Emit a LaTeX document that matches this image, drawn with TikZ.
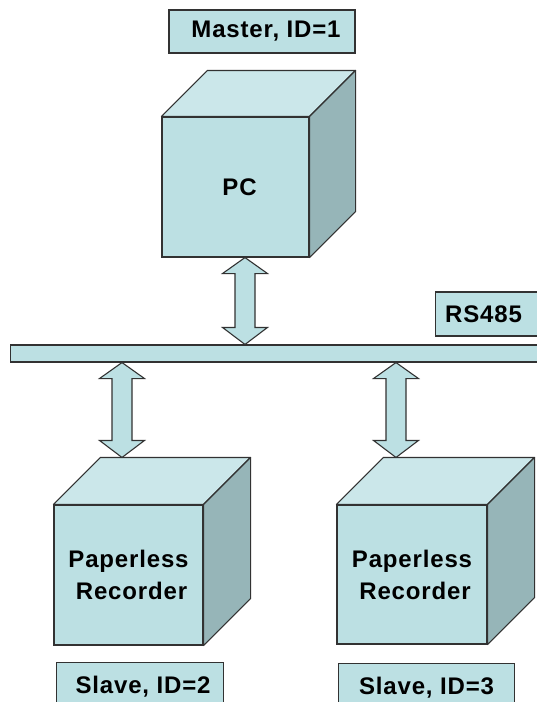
\documentclass[tikz,border=0pt]{standalone}
\usepackage{fontspec}
\setmainfont{Liberation Sans}
\newfontfamily\lblfont[LetterSpace=3.5]{Liberation Sans}
\usetikzlibrary{calc}
\definecolor{facec}{RGB}{188,224,227}
\definecolor{topc}{RGB}{203,231,234}
\definecolor{sidec}{RGB}{150,181,184}
\definecolor{edgec}{RGB}{50,50,50}
\tikzset{
  face/.style={draw=edgec, fill=facec, line width=1.1pt, inner sep=0pt, align=center, font=\lblfont\bfseries\fontsize{24}{32}\selectfont},
  topface/.style={draw=edgec, fill=topc, line width=1.1pt, line join=round},
  sideface/.style={draw=edgec, fill=sidec, line width=1.1pt, line join=round},
  label/.style={draw=edgec, fill=facec, line width=1.1pt, inner sep=0pt, font=\lblfont\bfseries\fontsize{24}{28}\selectfont},
  arr/.style={draw=edgec, fill=facec, line width=1.1pt, line join=miter},
}
\newcommand\mycube[6]{%
  \node[face, minimum width=#3, minimum height=#4] (#1) at (#2) {#6};
  \draw[topface] (#1.north west) -- ++(#5,#5) -- ([shift={(#5,#5)}]#1.north east) -- (#1.north east) -- cycle;
  \draw[sideface] (#1.north east) -- ++(#5,#5) -- ([shift={(#5,#5)}]#1.south east) -- (#1.south east) -- cycle;
  \coordinate (#1-back) at ([shift={(#5,#5)}]#1.north);
}
% double arrow: #1 top tip point, #2 point giving bottom tip y
\newcommand\dblarrow[2]{%
  \draw[arr] let \p1=(#1), \p2=(#2) in
    (\x1,\y1) -- (\x1+22.5pt,\y1-16pt) -- (\x1+10pt,\y1-16pt) -- (\x1+10pt,\y2+17pt)
    -- (\x1+22.5pt,\y2+17pt) -- (\x1,\y2) -- (\x1-22.5pt,\y2+17pt) -- (\x1-10pt,\y2+17pt)
    -- (\x1-10pt,\y1-16pt) -- (\x1-22.5pt,\y1-16pt) -- cycle;
}
\begin{document}
\begin{tikzpicture}[x=1pt,y=-1pt]
\useasboundingbox (0,0) rectangle (537,702);
% labels
\node[label, minimum width=186pt, minimum height=43pt] (master) at (262,31.5) {\hspace*{8pt}Master, ID=1};
\node[label, minimum width=104pt, minimum height=44pt, anchor=west] (rs) at (435,314) {\hspace*{-8pt}RS485};
\node[label, minimum width=167pt, minimum height=48pt, anchor=north west] (s2) at (56,662) {\hspace*{6pt}Slave, ID=2};
\node[label, minimum width=176pt, minimum height=48pt, anchor=north west] (s3) at (338,663) {Slave, ID=3};
% bus
\node[draw=edgec, fill=facec, line width=1.1pt, minimum width=530pt, minimum height=17pt, inner sep=0pt, anchor=west] (bus) at (10,353.5) {};
% cubes
\mycube{pc}{235.5,187}{147pt}{140pt}{46pt}{\hspace*{8pt}PC}
\mycube{rec1}{128.5,575}{149pt}{140pt}{47pt}{Paperless\\\hspace*{6pt}Recorder}
\mycube{rec2}{412,574.5}{150pt}{139pt}{47pt}{Paperless\\\hspace*{6pt}Recorder}
% arrows
\dblarrow{[xshift=9.5pt]pc.south}{bus.north}
\dblarrow{bus.south -| 122,0}{rec1-back}
\dblarrow{bus.south -| 396,0}{rec2-back}
\end{tikzpicture}
\end{document}
